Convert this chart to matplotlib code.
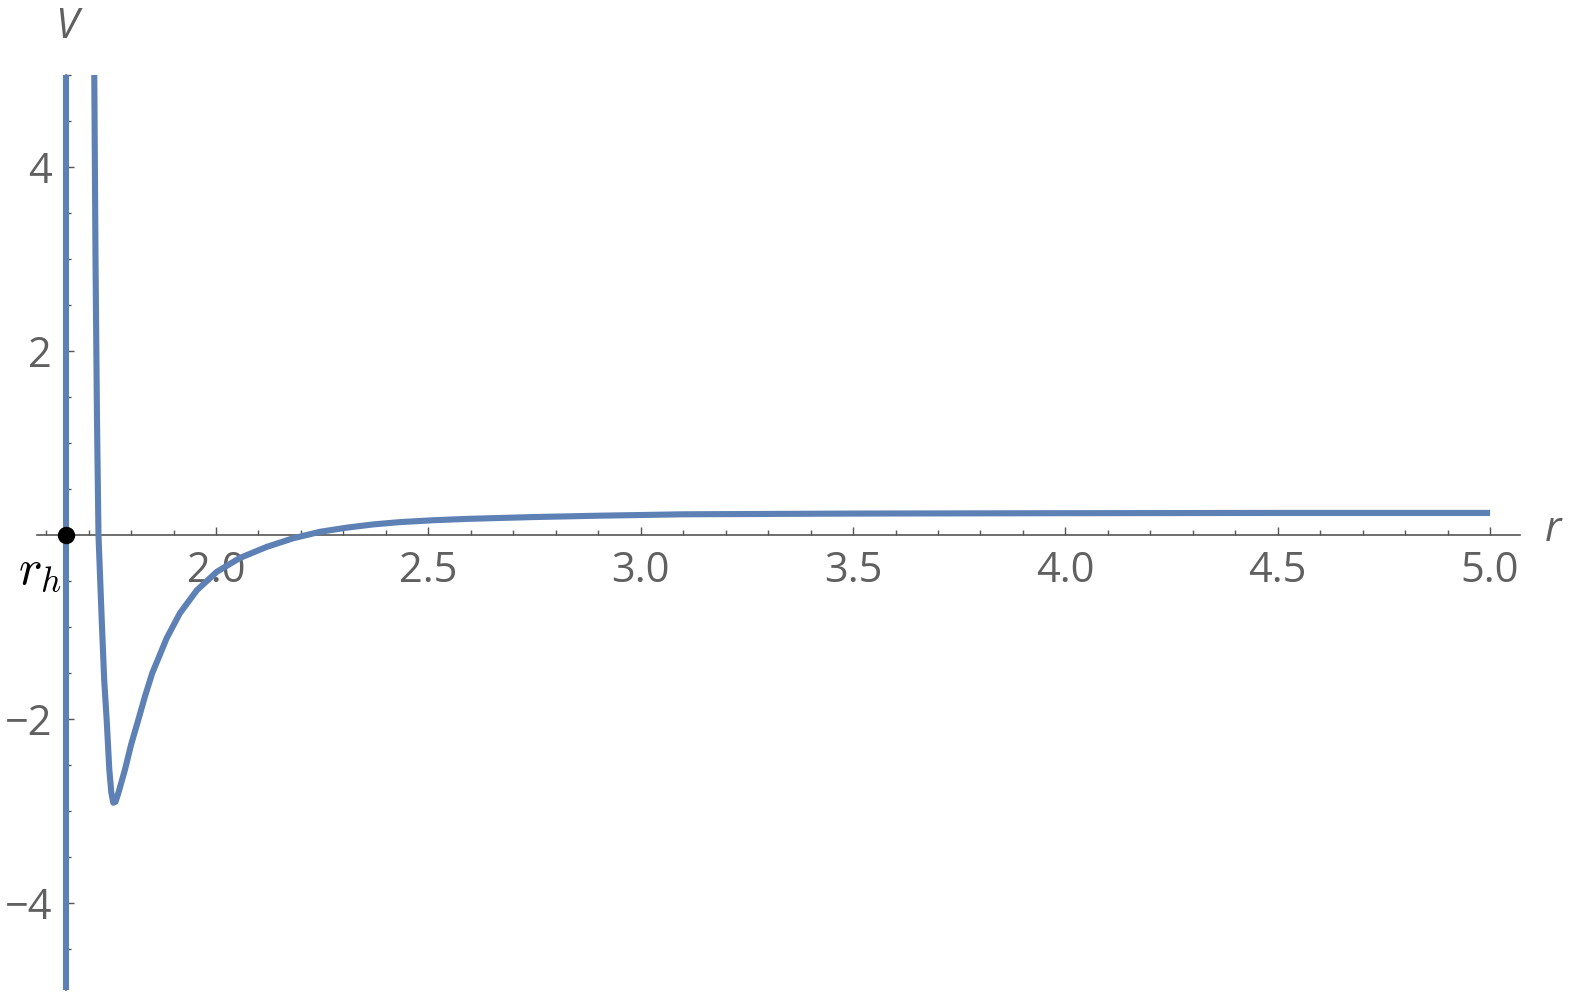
import matplotlib
matplotlib.use("Agg")
import matplotlib.pyplot as plt
from matplotlib.ticker import MultipleLocator, FixedLocator

# horizon radius
rh = 1.647

# left branch sits right on r = rh
left_r = [rh, rh]
left_V = [-4.95, 5.0]

# right branch
r = [1.7134, 1.7163, 1.7198, 1.7233, 1.7309, 1.7368, 1.7426, 1.7488, 1.7535,
     1.7582, 1.7634, 1.7704, 1.7857, 1.8000, 1.8170, 1.8330, 1.8500, 1.8680,
     1.8840, 1.9150, 1.9550, 2.0020, 2.0560, 2.1190, 2.1820, 2.2450, 2.3080,
     2.3700, 2.4330, 2.5100, 2.5900, 2.7470, 2.9040, 3.1000, 3.5000, 4.0000,
     4.5000, 5.0000]
V = [5.00, 2.99, 1.25, 0.00, -0.92, -1.58, -2.01, -2.55, -2.80,
     -2.91, -2.90, -2.80, -2.55, -2.28, -2.01, -1.75, -1.50, -1.30,
     -1.12, -0.85, -0.60, -0.40, -0.25, -0.13, -0.035, 0.035, 0.08,
     0.115, 0.14, 0.16, 0.175, 0.195, 0.21, 0.225, 0.233, 0.237,
     0.24, 0.24]

xmajor = [2.0, 2.5, 3.0, 3.5, 4.0, 4.5, 5.0]
ymajor = [-4, -2, 2, 4]

blue = "#5E81B5"
axcol = "#555555"
labcol = "#606060"
plt.rcParams["mathtext.fontset"] = "cm"

W, H = 1575, 998
fig = plt.figure(figsize=(W / 100, H / 100), dpi=100)
x0, x1 = 37.2, 1519.8
y0, y1 = 75.0, 990.4
ax = fig.add_axes([x0 / W, (H - y1) / H, (x1 - x0) / W, (y1 - y0) / H])
ax.set_xlim(1.579, 5.07)
ax.set_ylim(-4.95, 5.0)

ax.plot(left_r, left_V, color=blue, lw=4.4, solid_capstyle="butt", zorder=3)
ax.plot(r, V, color=blue, lw=4.4, solid_capstyle="butt",
        solid_joinstyle="round", zorder=3)
ax.plot([rh], [0], "o", color="black", ms=11.5, zorder=5, clip_on=False)

# spines through the origin, Mathematica style
ax.spines["left"].set_position(("data", rh))
ax.spines["bottom"].set_position(("data", 0.0))
ax.spines["right"].set_color("none")
ax.spines["top"].set_color("none")
for s in ["left", "bottom"]:
    ax.spines[s].set_color(axcol)
    ax.spines[s].set_linewidth(1.2)
    ax.spines[s].set_zorder(2)

ax.xaxis.set_major_locator(FixedLocator(xmajor))
ax.xaxis.set_minor_locator(MultipleLocator(0.1))
ax.yaxis.set_major_locator(FixedLocator(ymajor))
ax.yaxis.set_minor_locator(MultipleLocator(0.5))
ax.set_xticklabels(["%.1f" % v for v in xmajor])
ax.set_yticklabels(["%d" % v if v > 0 else "\u2212%d" % -v for v in ymajor])

ax.tick_params(axis="both", which="both", direction="in", color=axcol,
               labelcolor=labcol, labelsize=30, width=1.0)
ax.tick_params(axis="both", which="major", length=6)
ax.tick_params(axis="both", which="minor", length=3.5)
ax.tick_params(axis="x", pad=11)
ax.tick_params(axis="y", pad=10)
for t in ax.get_xticklabels() + ax.get_yticklabels():
    t.set_fontfamily("Open Sans")

ax.text(rh, 5.52, "V", fontsize=30, style="italic", color=labcol,
        ha="center", va="center", family="Open Sans", clip_on=False)
ax.text(5.148, 0.05, "r", fontsize=30, style="italic", color=labcol,
        ha="center", va="center", family="Open Sans", clip_on=False)
ax.text(1.586, -0.38, r"$r_h$", fontsize=36, color="black",
        ha="center", va="center", clip_on=False)

fig.savefig("out.png", dpi=100)
